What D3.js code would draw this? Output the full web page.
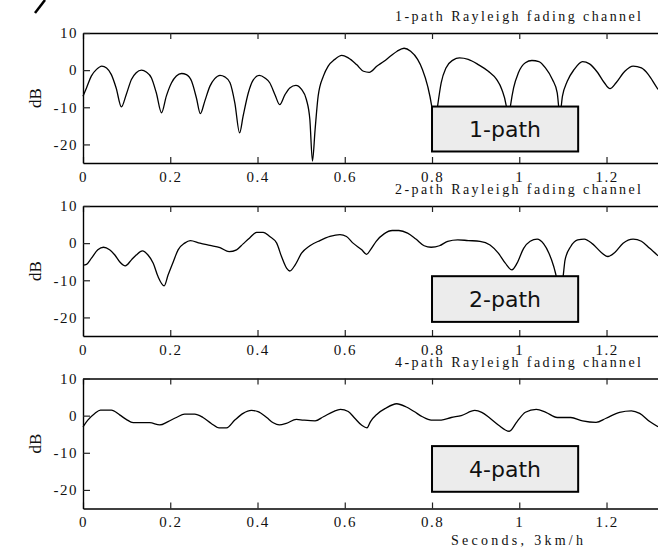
<!DOCTYPE html>
<html>
<head>
<meta charset="utf-8">
<script src="https://cdn.jsdelivr.net/npm/d3@7"></script>
<style>
  body { margin: 0; background: #fff; }
  svg { display: block; }
  .serif { font-family: "Liberation Serif", "Times New Roman", serif; fill: #111; }
</style>
</head>
<body>
<svg id="chart"></svg>
<script>
// [seconds, dB]
const path1 = [
  [0, -7.0], [0.008, -4.8], [0.019, -1.6], [0.031, 0.2], [0.043, 1.1], [0.054, 0.6], [0.065, -1.2],
  [0.076, -4.8], [0.088, -9.9], [0.099, -6.6], [0.111, -2.5], [0.122, -0.7], [0.134, 0.0], [0.145, -0.5],
  [0.157, -2.1], [0.168, -6.1], [0.180, -11.5], [0.191, -7.0], [0.203, -3.4], [0.214, -1.6], [0.226, -0.9],
  [0.237, -1.2], [0.249, -3.0], [0.260, -7.5], [0.269, -11.7], [0.279, -8.4], [0.291, -4.3], [0.302, -2.3],
  [0.314, -1.4], [0.325, -1.8], [0.337, -3.4], [0.348, -8.8], [0.359, -16.9], [0.367, -12.4], [0.379, -6.1],
  [0.390, -2.7], [0.404, -1.4], [0.417, -2.1], [0.428, -3.4], [0.440, -6.6], [0.451, -9.3], [0.463, -6.6],
  [0.474, -4.8], [0.488, -4.1], [0.501, -5.2], [0.512, -7.9], [0.520, -13.3], [0.526, -24.5], [0.532, -16.0],
  [0.539, -7.0], [0.551, -1.6], [0.562, 1.1], [0.577, 2.9], [0.593, 4.0], [0.608, 3.3], [0.627, 1.5],
  [0.643, -0.3], [0.656, -0.6], [0.674, 1.1], [0.690, 2.4], [0.705, 3.8], [0.720, 5.1], [0.736, 5.9],
  [0.751, 5.1], [0.767, 2.9], [0.778, 0.2], [0.790, -4.3], [0.799, -9.5], [0.806, -16.0], [0.813, -9.5],
  [0.821, -3.4], [0.832, 0.6], [0.848, 2.7], [0.863, 3.3], [0.883, 2.9], [0.906, 1.5], [0.929, -0.3],
  [0.948, -2.5], [0.960, -5.2], [0.970, -9.5], [0.975, -14.0], [0.980, -9.5], [0.987, -4.8], [0.998, -0.7],
  [1.014, 2.0], [1.029, 2.6], [1.045, 2.3], [1.060, 0.6], [1.076, -2.5], [1.087, -6.1], [1.093, -12.0],
  [1.099, -7.0], [1.110, -3.0], [1.126, 0.2], [1.145, 2.3], [1.161, 1.7], [1.180, -0.7], [1.195, -3.4],
  [1.208, -5.0], [1.222, -3.4], [1.242, -0.3], [1.261, 1.1], [1.280, 0.6], [1.296, -1.2], [1.311, -3.9],
  [1.318, -5.2]
];

const path2 = [
  [0, -5.9], [0.008, -5.7], [0.019, -4.1], [0.034, -1.8], [0.047, -1.1], [0.061, -1.8], [0.073, -3.2],
  [0.084, -5.0], [0.097, -6.1], [0.111, -4.5], [0.122, -3.2], [0.136, -2.1], [0.149, -3.2], [0.161, -5.4],
  [0.172, -9.0], [0.186, -11.5], [0.195, -8.6], [0.207, -5.0], [0.218, -1.8], [0.233, 0.0], [0.246, 0.7],
  [0.268, 0.0], [0.291, -0.6], [0.314, -1.2], [0.335, -2.3], [0.352, -1.8], [0.367, -0.2], [0.382, 1.4],
  [0.398, 2.9], [0.413, 2.9], [0.428, 1.8], [0.444, 0.0], [0.455, -3.6], [0.467, -6.8], [0.474, -7.5],
  [0.486, -5.9], [0.501, -2.7], [0.520, -0.7], [0.543, 0.7], [0.566, 1.8], [0.589, 2.3], [0.604, 1.8],
  [0.619, 0.0], [0.639, -1.8], [0.650, -3.0], [0.660, -1.6], [0.672, 0.5], [0.690, 2.5], [0.709, 3.4],
  [0.724, 3.4], [0.744, 2.7], [0.763, 1.1], [0.782, -0.7], [0.798, -1.1], [0.817, -0.7], [0.836, 0.5],
  [0.859, 0.9], [0.883, 0.7], [0.910, 0.5], [0.933, -0.5], [0.952, -2.7], [0.968, -5.4], [0.983, -7.2],
  [0.995, -5.4], [1.010, -1.4], [1.025, 0.5], [1.041, 1.1], [1.056, -0.2], [1.068, -2.7], [1.079, -6.3],
  [1.086, -9.5], [1.093, -13.0], [1.100, -9.5], [1.105, -4.5], [1.118, -0.9], [1.134, 0.9], [1.149, 1.1],
  [1.168, -0.2], [1.188, -2.5], [1.203, -3.6], [1.219, -2.5], [1.238, 0.0], [1.261, 1.1], [1.280, 0.5],
  [1.299, -1.4], [1.318, -3.4]
];

const path4 = [
  [0, -3.0], [0.011, -1.2], [0.027, 0.6], [0.040, 1.5], [0.065, 1.5], [0.084, 0.2], [0.099, -1.0],
  [0.115, -1.9], [0.153, -1.9], [0.176, -2.5], [0.195, -1.6], [0.214, -0.5], [0.233, 0.4], [0.256, 0.4],
  [0.275, -0.5], [0.294, -2.1], [0.312, -3.3], [0.329, -3.3], [0.348, -1.2], [0.367, 0.6], [0.386, 1.4],
  [0.401, 1.1], [0.421, -0.5], [0.436, -1.9], [0.450, -2.5], [0.466, -2.1], [0.489, -1.0], [0.505, -1.2],
  [0.532, -1.4], [0.551, -0.3], [0.574, 1.1], [0.590, 1.7], [0.608, 1.1], [0.623, -0.7], [0.639, -2.6],
  [0.651, -3.3], [0.659, -1.6], [0.674, 0.4], [0.694, 2.0], [0.719, 3.2], [0.740, 2.4], [0.759, 1.1],
  [0.778, -0.3], [0.798, -1.2], [0.821, -1.2], [0.844, -0.5], [0.867, 0.0], [0.898, 1.4], [0.914, 0.9],
  [0.933, -0.7], [0.952, -2.5], [0.977, -4.2], [0.995, -1.6], [1.014, 0.9], [1.039, 1.7], [1.061, 0.9],
  [1.087, -0.5], [1.118, -0.5], [1.145, -1.4], [1.176, -1.8], [1.199, -0.7], [1.230, 0.9], [1.257, 1.3],
  [1.276, 0.6], [1.299, -1.6], [1.318, -3.0]
];

const panelTitles = ['1-path Rayleigh fading channel', '2-path Rayleigh fading channel', '4-path Rayleigh fading channel'];
const boxLabels = ['1-path', '2-path', '4-path'];
const xTicks = [0, 0.2, 0.4, 0.6, 0.8, 1, 1.2];
const yTicks = [10, 0, -10, -20];

const width = 658;
const height = 549;
const left = 83;
const panelTops = [33, 206, 378.5];
const panelHeight = 130;
// label box corners in data units (seconds / dB)
const boxes = [
  { x0: 0.8, x1: 1.135, y0: -9.8, y1: -21.9 },
  { x0: 0.8, x1: 1.135, y0: -8.9, y1: -21.2 },
  { x0: 0.8, x1: 1.135, y0: -8.2, y1: -20.5 }
];

const svg = d3.select('#chart')
  .attr('width', width)
  .attr('height', height);

// stray stroke in the top-left corner of the scan
svg.append('path')
  .attr('d', 'M35,13 L45,0')
  .attr('stroke', '#000')
  .attr('stroke-width', 2.5);

const x = d3.scaleLinear().domain([0, 1.318]).range([left, width]);
// plain hyphen for negatives, like the original plot
const fmt = d => String(d);

[path1, path2, path4].forEach((data, i) => {
  const top = panelTops[i];
  const bottom = top + panelHeight;
  const y = d3.scaleLinear().domain([-25, 10]).range([bottom, top]);
  const g = svg.append('g');

  // bottom axis
  const xb = g.append('g')
    .attr('transform', `translate(0,${bottom})`)
    .call(d3.axisBottom(x).tickValues(xTicks).tickFormat(fmt)
      .tickSizeInner(-6).tickSizeOuter(0).tickPadding(8));

  // top axis, ticks only
  const xt = g.append('g')
    .attr('transform', `translate(0,${top})`)
    .call(d3.axisTop(x).tickValues(xTicks).tickFormat('')
      .tickSizeInner(-6).tickSizeOuter(0));

  // left axis
  const yl = g.append('g')
    .attr('transform', `translate(${left},0)`)
    .call(d3.axisLeft(y).tickValues(yTicks).tickFormat(fmt)
      .tickSizeInner(-7).tickSizeOuter(0).tickPadding(5));

  [xb, xt, yl].forEach(ax => {
    ax.attr('font-family', null).attr('font-size', null);
    ax.select('.domain').attr('stroke', '#000').attr('stroke-width', 1.4);
    ax.selectAll('.tick line').attr('stroke', '#222').attr('stroke-width', 1.2);
    ax.selectAll('.tick text')
      .attr('class', 'serif')
      .attr('font-size', 15)
      .style('letter-spacing', '1.5px')
      .attr('fill', '#111');
  });

  const line = d3.line()
    .x(d => x(d[0]))
    .y(d => y(d[1]))
    .curve(d3.curveMonotoneX);

  g.append('path')
    .datum(data)
    .attr('d', line)
    .attr('fill', 'none')
    .attr('stroke', '#000')
    .attr('stroke-width', 1.3)
    .attr('stroke-linejoin', 'round');

  // title above panel
  g.append('text')
    .attr('class', 'serif')
    .attr('x', 395)
    .attr('y', top - 12)
    .attr('font-size', 14)
    .attr('textLength', 246)
    .attr('lengthAdjust', 'spacing')
    .text(panelTitles[i]);

  // dB label
  g.append('text')
    .attr('class', 'serif')
    .attr('transform', `translate(41,${top + panelHeight / 2}) rotate(-90)`)
    .attr('text-anchor', 'middle')
    .attr('font-size', 17)
    .text('dB');

  // label box
  const b = boxes[i];
  g.append('rect')
    .attr('x', x(b.x0))
    .attr('y', y(b.y0))
    .attr('width', x(b.x1) - x(b.x0))
    .attr('height', y(b.y1) - y(b.y0))
    .attr('fill', '#ececec')
    .attr('stroke', '#000')
    .attr('stroke-width', 2);

  g.append('text')
    .attr('x', (x(b.x0) + x(b.x1)) / 2)
    .attr('y', (y(b.y0) + y(b.y1)) / 2)
    .attr('dy', '0.36em')
    .attr('text-anchor', 'middle')
    .attr('font-family', '"DejaVu Sans", sans-serif')
    .attr('font-size', 22)
    .attr('fill', '#111')
    .text(boxLabels[i]);
});

svg.append('text')
  .attr('class', 'serif')
  .attr('x', 451)
  .attr('y', 545)
  .attr('font-size', 14)
  .attr('textLength', 132)
  .attr('lengthAdjust', 'spacing')
  .text('Seconds, 3km/h');
</script>
</body>
</html>
